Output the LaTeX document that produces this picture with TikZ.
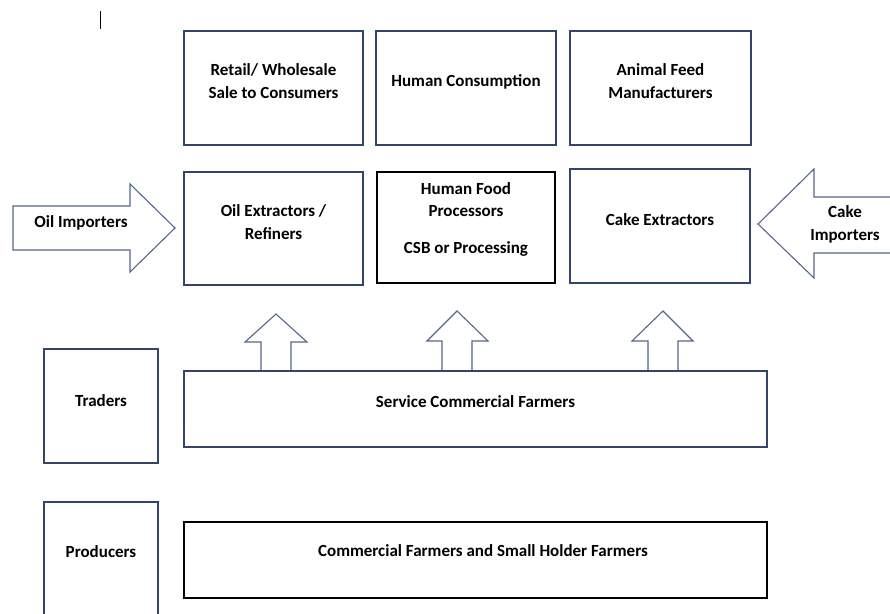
\documentclass[tikz,border=0pt]{standalone}
\usepackage{fontspec}
\setmainfont{Carlito}
\definecolor{bord}{HTML}{33456A}
\definecolor{arrowc}{HTML}{56668A}
\begin{document}
\begin{tikzpicture}[x=1pt,y=-1pt,
  lbl/.style={font=\fontsize{17}{23.5}\selectfont\bfseries, align=center, inner sep=0pt},
  box/.style={draw=bord, line width=1.2pt, fill=white, inner sep=0pt, minimum width=#1},
  bbox/.style={draw=black, line width=1.2pt, fill=white, inner sep=0pt, minimum width=#1},
  bigarrow/.style={draw=arrowc, line width=1.1pt, fill=white, line join=miter}]
\useasboundingbox (0,0) rectangle (890,613);

% cursor mark
\draw[black, line width=0.8pt] (100,11) -- (100,29);

% top row
\node[box=179, minimum height=114] (retail) at (273.5,88) {};
\node[lbl] (retailt) at (273.5,81) {Retail/ Wholesale\\Sale to Consumers};
\node[box=180, minimum height=114] (humancons) at (466,88) {};
\node[lbl] (humanconst) at (466,82) {Human Consumption};
\node[box=181, minimum height=114] (animal) at (660.5,88) {};
\node[lbl] (animalt) at (660.5,81) {Animal Feed\\Manufacturers};

% middle row
\node[box=179, minimum height=113] (oilext) at (273.5,228.5) {};
\node[lbl] (oilextt) at (273.5,222) {Oil Extractors /\\Refiners};
\node[bbox=178, minimum height=111] (hfp) at (466,227.5) {};
\node[lbl, font=\fontsize{17}{22}\selectfont\bfseries] (hfpt) at (466,219.5) {Human Food\\Processors\\[15pt]CSB or Processing};
\node[box=180, minimum height=114] (cakeext) at (660,226) {};
\node[lbl] (cakeextt) at (660,220) {Cake Extractors};

% side arrows
\draw[bigarrow] (13,206) -- (130,206) -- (130,184) -- (175,228) -- (130,272) -- (130,250) -- (13,250) -- cycle;
\node[lbl] (oilimp) at (81,223) {Oil Importers};
\draw[bigarrow] (758,224) -- (814,169) -- (814,197) -- (896,197) -- (896,253) -- (814,253) -- (814,278) -- cycle;
\node[lbl] (cakeimp) at (845,224.5) {Cake\\Importers};

% up arrows
\draw[bigarrow] (261,372) -- (261,342) -- (245,342) -- (276,314) -- (307,342) -- (291,342) -- (291,372);
\draw[bigarrow] (442,372) -- (442,341) -- (427,341) -- (457,311) -- (488,341) -- (472,341) -- (472,372);
\draw[bigarrow] (648,372) -- (648,341) -- (632,341) -- (663,311) -- (693,341) -- (678,341) -- (678,372);

% traders row
\node[box=114, minimum height=114] (traders) at (101,406) {};
\node[lbl] (traderst) at (101,401) {Traders};
\node[box=583, minimum height=76] (service) at (475.5,409) {};
\node[lbl] (servicet) at (475.5,402) {Service Commercial Farmers};

% producers row
\node[box=114, minimum height=123] (producers) at (101,563.5) {};
\node[lbl] (producerst) at (101,552) {Producers};
\node[bbox=583, minimum height=76] (commercial) at (475.5,560) {};
\node[lbl] (commercialt) at (483,551) {Commercial Farmers and Small Holder Farmers};
\end{tikzpicture}
\end{document}
